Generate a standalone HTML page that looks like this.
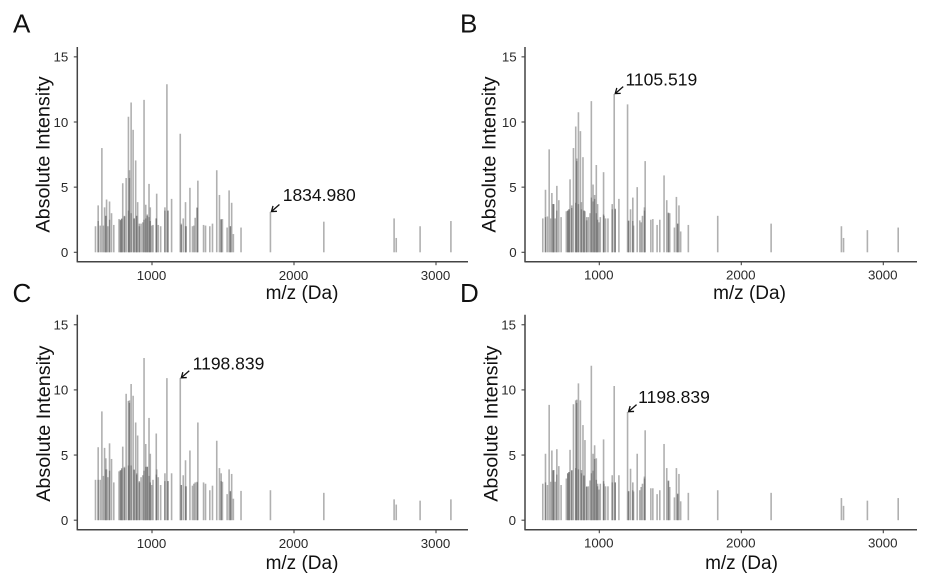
<!DOCTYPE html>
<html lang="en">
<head>
<meta charset="utf-8">
<title>Mass spectra panels</title>
<style>
html,body{margin:0;padding:0;background:#fff;width:931px;height:584px;overflow:hidden}
svg{display:block;filter:blur(0.3px)}
text{font-family:"Liberation Sans",Arial,sans-serif}
</style>
</head>
<body>
<svg id="chart" width="931" height="584" viewBox="0 0 931 584" xmlns="http://www.w3.org/2000/svg"></svg>
<script>
var mzValues = [
602,621,635,647,658,666,675,680,689,701,
715,731,768,778,787,794,806,818,834,841,
853,867,874,885,892,899,911,923,935,944,
956,967,979,988,998,1007,1030,1033,1044,1061,
1091,1105,1112,1138,1199,1206,1220,1236,1241,1267,
1285,1295,1304,1318,1323,1363,1377,1407,1426,1456,
1475,1487,1496,1529,1543,1552,1561,1573,1627,1834,
2210,2705,2720,2888,3105];
var intensityA = [
2.0,3.6,2.05,8.0,2.05,3.45,2.8,4.05,2.0,3.9,
3.0,2.1,2.55,2.45,2.55,5.3,2.75,5.7,10.4,6.3,
11.5,9.4,2.6,7.05,2.8,3.85,2.0,2.2,2.3,11.7,
3.65,2.8,5.25,3.45,2.05,2.1,2.6,4.5,2.1,2.0,
3.45,12.9,3.2,4.1,9.1,2.2,2.6,3.85,2.0,4.95,
2.0,2.05,2.65,3.45,5.5,2.1,2.05,2.0,2.2,6.3,
4.4,2.55,2.55,1.9,4.75,2.0,3.8,1.4,1.9,3.1,
2.35,2.6,1.1,2.0,2.4];
var intensityB = [
2.6,4.8,2.75,7.9,2.6,4.55,3.7,3.7,2.6,5.1,
4.0,2.7,3.15,3.2,3.3,5.6,3.6,8.0,9.65,7.2,
10.75,9.3,3.85,7.3,3.2,3.15,2.45,2.7,3.0,11.6,
5.2,4.4,6.7,3.7,2.3,2.7,6.15,2.8,2.6,2.6,
3.7,12.15,3.35,4.1,11.35,2.45,3.3,4.2,2.05,5.0,
2.45,2.3,2.8,3.45,7.0,2.5,2.55,2.1,2.5,5.9,
4.0,3.05,3.0,1.9,4.25,2.2,3.6,1.6,2.1,2.8,
2.2,2.0,1.1,1.7,1.9];
var intensityC = [
3.1,5.6,3.1,8.35,3.4,5.55,4.75,3.9,3.3,5.9,
4.7,2.9,3.75,3.85,4.0,5.65,4.1,9.7,9.15,9.2,
10.45,9.55,3.85,7.5,3.6,6.5,2.9,3.3,3.45,12.45,
5.85,4.1,7.85,5.1,2.7,3.1,6.65,3.9,3.3,2.7,
3.6,10.9,3.0,3.6,10.9,2.7,3.45,4.6,2.6,5.35,
2.65,2.8,2.9,2.95,7.5,2.9,2.8,2.3,2.65,6.1,
4.0,3.6,2.95,2.0,3.9,2.25,3.55,1.65,2.25,2.3,
2.1,1.6,1.2,1.5,1.6];
var intensityD = [
2.8,5.1,2.7,8.85,2.95,5.35,3.85,3.85,2.95,5.45,
4.15,2.7,3.2,3.6,3.7,5.4,3.85,8.9,9.2,9.25,
10.5,9.2,3.85,7.3,3.45,6.15,2.55,2.6,3.05,11.85,
5.1,5.75,4.75,2.8,2.35,2.8,6.2,2.8,2.6,2.6,
3.45,10.3,2.9,3.45,8.3,2.25,3.95,2.9,2.2,5.1,
2.3,2.55,2.8,3.35,6.9,2.45,2.45,2.0,2.3,5.85,
4.0,3.05,2.55,1.75,4.0,2.05,3.55,1.45,2.1,2.3,
2.1,1.7,1.1,1.5,1.7];
var overlapMz = [621,675,701,778,787,806,834,841,853,874,892,911,944,956,967,979,988,1030,1091,1112,1206,1236,1318,1487,1552];
var overlapA = [2.4,2.8,2.5,2.5,2.6,2.8,3.2,5.7,3.0,2.6,2.8,2.2,2.5,2.6,2.9,2.7,2.4,2.6,3.2,3.2,2.1,2.0,3.4,2.5,2.0];
var overlapB = [2.7,3.7,3.2,3.2,3.3,3.4,3.8,7.0,3.7,3.3,3.2,2.7,4.2,3.9,4.1,3.0,2.5,2.9,3.3,3.3,2.4,2.4,3.2,3.0,2.2];
var overlapC = [3.1,3.9,3.8,3.8,3.9,4.0,4.2,9.0,4.2,3.9,3.5,3.0,3.8,4.1,4.1,3.4,2.9,3.5,3.0,3.0,2.7,2.6,2.9,3.0,2.2];
var overlapD = [2.9,3.8,3.5,3.6,3.7,3.8,4.0,9.0,3.9,3.6,3.4,2.6,3.6,3.8,4.7,3.1,2.6,3.0,2.9,2.9,2.2,2.3,3.2,3.0,2.0];
var yTicks = [0,5,10,15];
var xTicks = [1000,2000,3000];
var panelLetters = ["A","B","C","D"];
var annotationLabels = ["1834.980","1105.519","1198.839","1198.839"];
var annotationMz = [1834,1105,1199,1199];
var annotationValues = [3.1,12.15,10.9,8.3];

var NS = "http://www.w3.org/2000/svg";
var svg = document.getElementById("chart");
var panelIntensity = [intensityA,intensityB,intensityC,intensityD];
var panelOverlap = [overlapA,overlapB,overlapC,overlapD];
var panelLayout = [
  {x0:10, y0:252.3, axisX:77.3, axisY:261.7, right:468, top:47, letterX:13, letterY:32.5, tickY:280, titleX:302, titleY:299, yTitleX:49.3, yTitleY:154.5, yLabelX:68.3, annDx:11.3, annDy:-10.7},
  {x0:457.3, y0:252.3, axisX:525, axisY:261.7, right:917, top:47, letterX:460, letterY:32.5, tickY:279.3, titleX:749.5, titleY:299, yTitleX:495.7, yTitleY:154.5, yLabelX:516.7, annDx:10.3, annDy:-8.3},
  {x0:10, y0:520.2, axisX:77.3, axisY:529.7, right:468, top:314.7, letterX:12.5, letterY:302, tickY:548, titleX:302, titleY:569, yTitleX:50, yTitleY:423.7, yLabelX:68.3, annDx:11.4, annDy:-8.4},
  {x0:457.3, y0:520.2, axisX:525, axisY:529.7, right:917, top:314.7, letterX:460, letterY:302, tickY:547.7, titleX:741.5, titleY:569, yTitleX:497.7, yTitleY:423.7, yLabelX:516, annDx:9.6, annDy:-8.7}
];

function make(tag, attrs, parent, txt){
  var el = document.createElementNS(NS, tag);
  for (var k in attrs) el.setAttribute(k, attrs[k]);
  if (txt !== undefined) el.textContent = txt;
  parent.appendChild(el);
  return el;
}
function xScale(p, mz){ return p.x0 + mz * 0.142; }
function yScale(p, v){ return p.y0 - v * 13.03; }

panelLayout.forEach(function(p, i){
  var g = make("g", {}, svg);
  
  

  var letter = make("text", {x:p.letterX, y:p.letterY, "font-size":26, fill:"#111"}, g, panelLetters[i]);
  
  

  mzValues.forEach(function(mz, j){
    var bar = make("line", {x1:xScale(p,mz), x2:xScale(p,mz), y1:yScale(p,0), y2:yScale(p,panelIntensity[i][j]), stroke:"#777", "stroke-opacity":0.58, "stroke-width":1.6}, g);
    
    
  });
  overlapMz.forEach(function(mz, j){
    var bar = make("line", {x1:xScale(p,mz), x2:xScale(p,mz), y1:yScale(p,0), y2:yScale(p,panelOverlap[i][j]), stroke:"#555", "stroke-opacity":0.5, "stroke-width":1.4}, g);
    
    
  });

  var yAxis = make("line", {x1:p.axisX, x2:p.axisX, y1:p.top, y2:p.axisY+0.7, stroke:"#444", "stroke-width":1.5}, g);
  
  
  var xAxis = make("line", {x1:p.axisX, x2:p.right, y1:p.axisY, y2:p.axisY, stroke:"#444", "stroke-width":1.5}, g);
  
  

  yTicks.forEach(function(v){
    var y = yScale(p, v);
    var t = make("line", {x1:p.axisX-3.5, x2:p.axisX, y1:y, y2:y, stroke:"#444", "stroke-width":1.1}, g);
    
    
    var l = make("text", {x:p.yLabelX, y:y+4.8, "text-anchor":"end", "font-size":13.3, fill:"#2a2a2a"}, g, String(v));
    
    
  });
  xTicks.forEach(function(v){
    var x = xScale(p, v);
    var t = make("line", {x1:x, x2:x, y1:p.axisY, y2:p.axisY+3.5, stroke:"#444", "stroke-width":1.1}, g);
    
    
    var l = make("text", {x:x-0.5, y:p.tickY, "text-anchor":"middle", "font-size":13.3, fill:"#2a2a2a"}, g, String(v));
    
    
  });

  var xTitle = make("text", {x:p.titleX, y:p.titleY, "text-anchor":"middle", "font-size":19, fill:"#111"}, g, "m/z (Da)");
  
  
  var yTitle = make("text", {x:p.yTitleX, y:p.yTitleY, "text-anchor":"middle", "font-size":19.8, fill:"#111", transform:"rotate(-90 "+p.yTitleX+" "+p.yTitleY+")"}, g, "Absolute Intensity");
  
  

  var tipX = xScale(p, annotationMz[i]) + 1;
  var tipY = yScale(p, annotationValues[i]) - 0.4;
  var arrow = make("path", {d:"M"+(tipX+8)+" "+(tipY-7)+"L"+tipX+" "+tipY+"M"+(tipX+5.5)+" "+(tipY-0.2)+"L"+tipX+" "+tipY+"L"+(tipX+1.6)+" "+(tipY-5.6), fill:"none", stroke:"#111", "stroke-width":1.3}, g);
  
  
  var ann = make("text", {x:tipX+p.annDx, y:tipY+p.annDy, "font-size":17.5, fill:"#111"}, g, annotationLabels[i]);
  
  
});
</script>
</body>
</html>
